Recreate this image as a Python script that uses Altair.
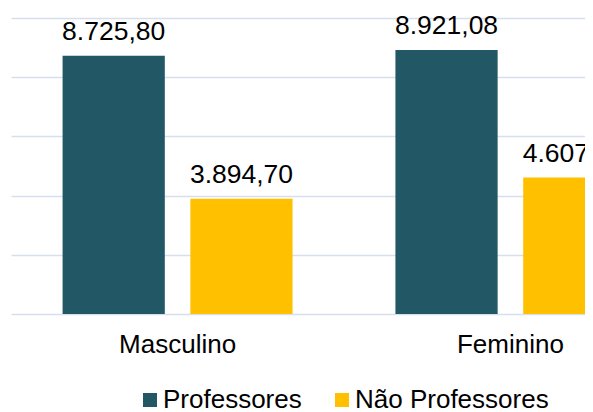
import altair as alt
import pandas as pd

categories = ["Masculino", "Feminino"]
series = ["Professores", "Não Professores"]
professores = [8725.80, 8921.08]
nao_professores = [3894.70, 4607.40]
colors = ["#225865", "#FFC000"]
grid_values = [0, 2000, 4000, 6000, 8000, 10000]


def br(v):
    s = f"{v:,.2f}"
    return s.replace(",", "X").replace(".", ",").replace("X", ".")


rows = []
for i, c in enumerate(categories):
    rows.append(dict(cat=c, serie=series[0], valor=professores[i]))
    rows.append(dict(cat=c, serie=series[1], valor=nao_professores[i]))
df = pd.DataFrame(rows)
df["rotulo"] = df["valor"].map(br)

FONT = "Liberation Sans"

x = alt.X(
    "cat:N",
    sort=categories,
    scale=alt.Scale(paddingInner=0.309, paddingOuter=0.155, range=[0, 666]),
    axis=alt.Axis(
        title=None, labelAngle=0, ticks=False, domain=False,
        labelFontSize=26, labelFont=FONT, labelColor="#000000", labelPadding=17,
    ),
)
xo = alt.XOffset("serie:N", sort=series, scale=alt.Scale(paddingInner=0.2))
y = alt.Y(
    "valor:Q",
    scale=alt.Scale(domain=[0, 10000]),
    axis=alt.Axis(
        title=None, labels=False, ticks=False, domain=False,
        values=grid_values, gridColor="#D5DFEE", gridWidth=1.5,
    ),
)

bars = alt.Chart(df).mark_bar().encode(
    x=x,
    xOffset=xo,
    y=y,
    color=alt.Color(
        "serie:N",
        sort=series,
        scale=alt.Scale(domain=series, range=colors),
        legend=alt.Legend(
            orient="none", legendX=126, legendY=369, direction="horizontal",
            title=None, symbolType="square", symbolSize=196,
            symbolStrokeWidth=0, labelFontSize=26, labelFont=FONT, labelLimit=400,
            labelColor="#000000", columnPadding=27, labelOffset=0,
        ),
    ),
)

text = alt.Chart(df).mark_text(
    dy=-16, baseline="alphabetic", fontSize=26.5, font=FONT, color="#000000"
).encode(x=x, xOffset=xo, y=y, text="rotulo:N")

chart = (bars + text).properties(
    width=574, height=296,
    padding={"left": 3, "top": 10, "right": 0, "bottom": 98},
    autosize=alt.AutoSizeParams(type="none"),
).configure_view(stroke=None)

chart.save("out.html", embed_options={"renderer": "svg", "actions": False})
